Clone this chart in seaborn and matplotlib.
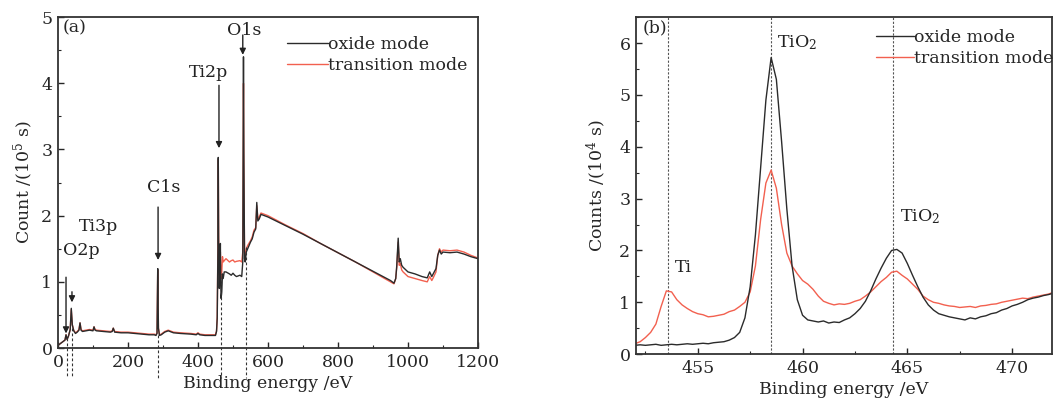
import numpy as np
import pandas as pd
import matplotlib
matplotlib.use("Agg")
import matplotlib.pyplot as plt
from matplotlib.ticker import MultipleLocator
import seaborn as sns

# ---------------- data: panel (a) survey spectrum (10^5 counts/s) ----------------
energy_a = [0, 5, 10, 15, 20, 23, 26, 30, 35, 38, 41, 45, 50, 55, 60, 63, 66, 70, 80, 90,
            100, 103, 106, 110, 130, 150, 155, 158, 162, 180, 200, 220, 240, 260, 275, 280,
            283, 285, 287, 290, 295, 305, 315, 330, 350, 380, 395, 400, 405, 420, 440, 450,
            453, 455, 457, 458, 459, 461, 463, 464, 465, 466, 468, 470, 472, 475, 480, 490,
            495, 500, 505, 510, 520, 525, 528, 530, 531, 533, 535, 538, 542, 550, 555, 560,
            565, 568, 571, 575, 580, 600, 650, 700, 750, 800, 850, 900, 950, 960, 965, 968,
            972, 975, 978, 982, 986, 990, 1000, 1020, 1040, 1055, 1062, 1068, 1072, 1080,
            1085, 1090, 1095, 1100, 1120, 1140, 1160, 1180, 1200]
oxide_a = [0.04, 0.06, 0.08, 0.10, 0.12, 0.20, 0.13, 0.18, 0.28, 0.60, 0.35, 0.26, 0.22, 0.24,
           0.27, 0.38, 0.27, 0.25, 0.26, 0.27, 0.26, 0.32, 0.27, 0.26, 0.25, 0.24, 0.25, 0.30,
           0.24, 0.23, 0.23, 0.22, 0.21, 0.20, 0.20, 0.19, 0.22, 1.20, 0.30, 0.19, 0.20, 0.24,
           0.26, 0.23, 0.22, 0.21, 0.20, 0.22, 0.20, 0.19, 0.19, 0.19, 0.25, 0.45, 1.5, 2.88,
           1.6, 0.9, 1.3, 1.58, 1.0, 0.75, 0.85, 1.12, 1.05, 1.15, 1.15, 1.12, 1.10, 1.13,
           1.10, 1.08, 1.10, 1.08, 1.30, 4.40, 3.00, 1.35, 1.30, 1.45, 1.50, 1.60, 1.65, 1.75,
           1.80, 2.20, 1.92, 1.95, 2.02, 1.98, 1.85, 1.72, 1.58, 1.44, 1.30, 1.16, 1.02, 0.98,
           1.05, 1.25, 1.66, 1.30, 1.35, 1.25, 1.22, 1.20, 1.15, 1.12, 1.08, 1.06, 1.15, 1.08,
           1.12, 1.20, 1.40, 1.48, 1.42, 1.45, 1.44, 1.45, 1.42, 1.38, 1.35]
transition_a = [0.04, 0.06, 0.08, 0.10, 0.12, 0.20, 0.13, 0.18, 0.28, 0.58, 0.35, 0.27, 0.23, 0.25,
                0.28, 0.38, 0.28, 0.26, 0.27, 0.28, 0.27, 0.32, 0.28, 0.27, 0.26, 0.25, 0.26, 0.30,
                0.25, 0.24, 0.24, 0.23, 0.22, 0.21, 0.21, 0.20, 0.23, 1.18, 0.30, 0.20, 0.21, 0.25,
                0.27, 0.24, 0.23, 0.22, 0.21, 0.23, 0.21, 0.20, 0.20, 0.20, 0.26, 0.48, 1.6, 2.85,
                1.7, 1.1, 1.4, 1.45, 1.2, 1.05, 1.15, 1.38, 1.30, 1.32, 1.35, 1.30, 1.32, 1.33,
                1.30, 1.31, 1.32, 1.30, 1.45, 4.00, 2.80, 1.45, 1.40, 1.50, 1.55, 1.62, 1.68, 1.78,
                1.82, 2.15, 1.95, 1.98, 2.04, 2.00, 1.86, 1.73, 1.58, 1.44, 1.30, 1.15, 1.00, 0.97,
                1.05, 1.22, 1.60, 1.25, 1.28, 1.18, 1.15, 1.13, 1.08, 1.05, 1.02, 1.00, 1.08, 1.02,
                1.06, 1.15, 1.40, 1.50, 1.45, 1.48, 1.47, 1.48, 1.45, 1.40, 1.36]

# peak annotations (a)
peak_labels_a = ["O2p", "Ti3p", "C1s", "Ti2p", "O1s"]
label_x_a = [67, 117, 301, 431, 533]
label_y_a = [1.48, 1.83, 2.43, 4.17, 4.80]
arrow_x_a = [23, 40, 286, 460, 528]
arrow_from_a = [1.07, 0.85, 2.13, 3.97, 4.73]
arrow_to_a = [0.22, 0.69, 1.33, 3.02, 4.43]
guide_x_a = [26, 40, 286, 466, 537]
guide_top_a = [0.15, 0.30, 0.20, 1.00, 1.53]

# ---------------- data: panel (b) Ti2p high resolution (10^4 counts/s) ----------------
energy_b = [452.0, 452.25, 452.5, 452.75, 453.0, 453.25, 453.5, 453.75,
            454.0, 454.25, 454.5, 454.75, 455.0, 455.25, 455.5, 455.75,
            456.0, 456.25, 456.5, 456.75, 457.0, 457.25, 457.5, 457.75,
            458.0, 458.25, 458.5, 458.75, 459.0, 459.25, 459.5, 459.75,
            460.0, 460.25, 460.5, 460.75, 461.0, 461.25, 461.5, 461.75,
            462.0, 462.25, 462.5, 462.75, 463.0, 463.25, 463.5, 463.75,
            464.0, 464.25, 464.5, 464.75, 465.0, 465.25, 465.5, 465.75,
            466.0, 466.25, 466.5, 466.75, 467.0, 467.25, 467.5, 467.75,
            468.0, 468.25, 468.5, 468.75, 469.0, 469.25, 469.5, 469.75,
            470.0, 470.25, 470.5, 470.75, 471.0, 471.25, 471.5, 471.75,
            472.0]
oxide_b = [0.17, 0.18, 0.17, 0.18, 0.19, 0.17, 0.18, 0.19,
           0.18, 0.19, 0.20, 0.19, 0.20, 0.21, 0.20, 0.22,
           0.23, 0.24, 0.27, 0.32, 0.42, 0.70, 1.30, 2.30,
           3.60, 4.90, 5.72, 5.30, 4.10, 2.80, 1.70, 1.05,
           0.75, 0.66, 0.64, 0.62, 0.64, 0.60, 0.62, 0.61,
           0.66, 0.70, 0.78, 0.88, 1.02, 1.22, 1.45, 1.66,
           1.85, 2.00, 2.02, 1.95, 1.75, 1.52, 1.30, 1.10,
           0.95, 0.85, 0.78, 0.75, 0.72, 0.70, 0.68, 0.66,
           0.70, 0.68, 0.72, 0.74, 0.78, 0.80, 0.85, 0.88,
           0.93, 0.96, 1.00, 1.05, 1.08, 1.10, 1.13, 1.15,
           1.18]
transition_b = [0.20, 0.24, 0.32, 0.42, 0.58, 0.92, 1.22, 1.20,
                1.05, 0.95, 0.88, 0.82, 0.78, 0.76, 0.72, 0.73,
                0.75, 0.77, 0.82, 0.85, 0.92, 1.00, 1.20, 1.70,
                2.60, 3.30, 3.55, 3.20, 2.50, 1.95, 1.70, 1.55,
                1.42, 1.35, 1.25, 1.12, 1.02, 0.98, 0.95, 0.97,
                0.96, 0.98, 1.02, 1.05, 1.12, 1.20, 1.30, 1.40,
                1.48, 1.58, 1.60, 1.52, 1.45, 1.35, 1.25, 1.12,
                1.05, 1.00, 0.98, 0.95, 0.93, 0.92, 0.90, 0.91,
                0.92, 0.90, 0.93, 0.94, 0.96, 0.97, 1.00, 1.02,
                1.04, 1.06, 1.08, 1.07, 1.10, 1.12, 1.14, 1.16,
                1.20]
guide_x_b = [453.6, 458.5, 464.3]
peak_labels_b = ["Ti", "TiO$_2$", "TiO$_2$"]
label_x_b = [454.3, 459.75, 465.6]
label_y_b = [1.68, 6.0, 2.65]

series_names = ["oxide mode", "transition mode"]
colors = {"oxide mode": "#2b2b2b", "transition mode": "#f2604f"}

# ---------------- style ----------------
sns.set_style("ticks")
plt.rcParams["font.family"] = ["DejaVu Serif"]
plt.rcParams["mathtext.fontset"] = "dejavuserif"
plt.rcParams["font.size"] = 12
plt.rcParams["axes.edgecolor"] = "#333333"
plt.rcParams["axes.linewidth"] = 1.3
plt.rcParams["xtick.direction"] = "in"
plt.rcParams["ytick.direction"] = "in"

fig = plt.figure(figsize=(10.54, 4.08), dpi=100)
ax_a = fig.add_axes([0.055, 0.147, 0.3985, 0.811])
ax_b = fig.add_axes([0.6034, 0.132, 0.3946, 0.826])

df_a = pd.concat([
    pd.DataFrame({"energy": energy_a, "count": oxide_a, "mode": series_names[0]}),
    pd.DataFrame({"energy": energy_a, "count": transition_a, "mode": series_names[1]}),
])
df_b = pd.concat([
    pd.DataFrame({"energy": energy_b, "count": oxide_b, "mode": series_names[0]}),
    pd.DataFrame({"energy": energy_b, "count": transition_b, "mode": series_names[1]}),
])

# ---- panel (a) ----
for name in [series_names[1], series_names[0]]:
    sub = df_a[df_a["mode"] == name]
    sns.lineplot(data=sub, x="energy", y="count", ax=ax_a, color=colors[name],
                 lw=1.0, label=name, estimator=None, sort=False)
ax_a.set_xlim(0, 1200)
ax_a.set_ylim(0, 5)
ax_a.xaxis.set_major_locator(MultipleLocator(200))
ax_a.xaxis.set_minor_locator(MultipleLocator(100))
ax_a.yaxis.set_major_locator(MultipleLocator(1))
ax_a.yaxis.set_minor_locator(MultipleLocator(0.5))
ax_a.tick_params(which="major", length=4, width=1.0, labelsize=12.5, pad=4)
ax_a.tick_params(which="minor", length=2.5, width=0.8)
ax_a.set_xlabel("Binding energy /eV", fontsize=12.5, labelpad=3)
ax_a.set_ylabel("Count /(10$^5$ s)", fontsize=12.5, labelpad=4)
for xg, yt in zip(guide_x_a, guide_top_a):
    ax_a.plot([xg, xg], [yt, -0.45], ls=(0, (2.5, 2)), color="#333333", lw=0.8, clip_on=False)
for xa, y0, y1 in zip(arrow_x_a, arrow_from_a, arrow_to_a):
    ax_a.annotate("", xy=(xa, y1), xytext=(xa, y0),
                  arrowprops=dict(arrowstyle="-|>", color="#222222", lw=1.0,
                                  mutation_scale=9, shrinkA=0, shrinkB=0))
for t, xl, yl in zip(peak_labels_a, label_x_a, label_y_a):
    ax_a.text(xl, yl, t, ha="center", va="center", fontsize=12.5, color="#222222")
ax_a.text(12, 4.97, "(a)", ha="left", va="top", fontsize=12.5)
h, l = ax_a.get_legend_handles_labels()
ax_a.legend(h[::-1], l[::-1], loc="upper right", frameon=False, handlelength=2.4,
            handletextpad=0.0, fontsize=12.5, labelspacing=0.25,
            bbox_to_anchor=(1.0, 0.975), borderaxespad=0.2)

# ---- panel (b) ----
for xg in guide_x_b:
    ax_b.axvline(xg, ls=(0, (2, 1.5)), color="#555555", lw=0.8, zorder=1)
for name in [series_names[1], series_names[0]]:
    sub = df_b[df_b["mode"] == name]
    sns.lineplot(data=sub, x="energy", y="count", ax=ax_b, color=colors[name],
                 lw=1.0, label=name, estimator=None, sort=False)
ax_b.set_xlim(452.05, 471.9)
ax_b.set_ylim(0, 6.5)
ax_b.set_xticks([455, 460, 465, 470])
ax_b.xaxis.set_minor_locator(MultipleLocator(2.5))
ax_b.yaxis.set_major_locator(MultipleLocator(1))
ax_b.yaxis.set_minor_locator(MultipleLocator(0.5))
ax_b.tick_params(which="major", length=4, width=1.0, labelsize=12.5, pad=4)
ax_b.tick_params(which="minor", length=2.5, width=0.8)
ax_b.set_xlabel("Binding energy /eV", fontsize=12.5, labelpad=3)
ax_b.set_ylabel("Counts /(10$^4$ s)", fontsize=12.5, labelpad=8)
for t, xl, yl in zip(peak_labels_b, label_x_b, label_y_b):
    ax_b.text(xl, yl, t, ha="center", va="center", fontsize=12.5, color="#222222")
ax_b.text(452.35, 6.46, "(b)", ha="left", va="top", fontsize=12.5)
h, l = ax_b.get_legend_handles_labels()
ax_b.legend(h[::-1], l[::-1], loc="upper right", frameon=False, handlelength=2.2,
            handletextpad=0.0, fontsize=12.5, labelspacing=0.25,
            bbox_to_anchor=(1.02, 0.985), borderaxespad=0.0)

fig.savefig("out.png", dpi=100)
